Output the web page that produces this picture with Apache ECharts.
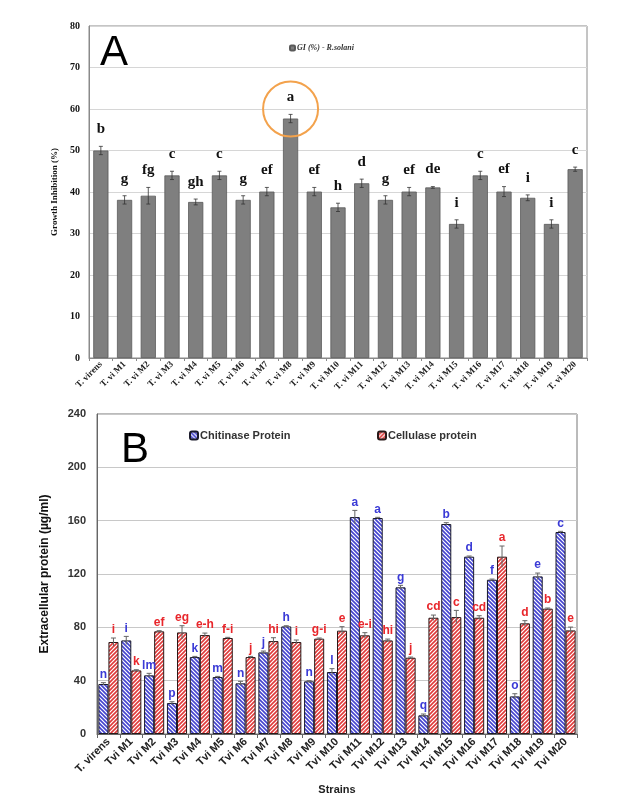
<!DOCTYPE html>
<html><head><meta charset="utf-8">
<script src="https://cdn.jsdelivr.net/npm/echarts@6/dist/echarts.min.js"></script>
<style>html,body{margin:0;padding:0;background:#fff}#c{width:634px;height:804px}</style>
</head><body><div id="c"></div>
<script>
// ---------- Panel A data ----------
const catsA = ['T. virens','T. vi M1','T. vi M2','T. vi M3','T. vi M4','T. vi M5','T. vi M6','T. vi M7','T. vi M8','T. vi M9','T. vi M10','T. vi M11','T. vi M12','T. vi M13','T. vi M14','T. vi M15','T. vi M16','T. vi M17','T. vi M18','T. vi M19','T. vi M20'];
const giValues = [50.0, 38.1, 39.1, 44.0, 37.6, 44.0, 38.1, 40.1, 57.7, 40.1, 36.3, 42.1, 38.1, 40.1, 41.1, 32.3, 44.0, 40.1, 38.6, 32.3, 45.5];
const giErrors = [1.0, 1.0, 2.0, 1.0, 0.7, 1.0, 1.0, 1.0, 1.0, 1.0, 1.0, 1.0, 1.0, 1.0, 0.2, 1.0, 1.0, 1.2, 0.7, 1.0, 0.5];
const giLetters = ['b','g','fg','c','gh','c','g','ef','a','ef','h','d','g','ef','de','i','c','ef','i','i','c'];
const highlightA = {cat: 'T. vi M8', value: 60};

// ---------- Panel B data ----------
const catsB = ['T. virens','Tvi M1','Tvi M2','Tvi M3','Tvi M4','Tvi M5','Tvi M6','Tvi M7','Tvi M8','Tvi M9','Tvi M10','Tvi M11','Tvi M12','Tvi M13','Tvi M14','Tvi M15','Tvi M16','Tvi M17','Tvi M18','Tvi M19','Tvi M20'];
const chitinase = [37.5, 70.2, 44.0, 23.2, 57.7, 42.7, 38.0, 61.2, 80.7, 39.5, 46.5, 162.7, 162.0, 110.0, 14.0, 157.5, 133.0, 115.7, 28.2, 118.2, 151.5];
const chitErr   = [1.0, 3.0, 1.5, 1.0, 0.5, 0.5, 1.5, 1.0, 0.5, 0.5, 2.5, 5.0, 0.5, 1.5, 1.0, 1.0, 0.5, 0.5, 2.0, 2.5, 0.5];
const chitLetters = ['n','i','lm','p','k','m','n','j','h','n','l','a','a','g','q','b','d','f','o','e','c'];
const cellulase = [69.0, 47.7, 77.0, 76.2, 74.2, 72.0, 57.7, 69.7, 69.0, 71.5, 77.5, 74.0, 70.2, 57.2, 87.2, 87.7, 87.2, 133.0, 83.0, 94.0, 77.7];
const cellErr   = [3.0, 0.5, 0.5, 5.0, 1.5, 0.5, 0.5, 2.5, 1.5, 0.5, 3.0, 2.0, 1.0, 0.5, 2.0, 5.0, 1.5, 8.0, 2.0, 0.5, 2.5];
const cellLetters = ['i','k','ef','eg','e-h','f-i','j','hi','i','g-i','e','e-i','hi','j','cd','c','cd','a','d','b','e'];

function hatch(color, dir) {
  const s = 4;
  const c = document.createElement('canvas');
  c.width = s; c.height = s;
  const g = c.getContext('2d');
  g.fillStyle = '#ffffff'; g.fillRect(0, 0, s, s);
  g.strokeStyle = color; g.lineWidth = 1.6;
  g.beginPath();
  for (let k = -1; k <= 1; k++) {
    if (dir > 0) { g.moveTo(k*s - 2, -2); g.lineTo(k*s + s + 2, s + 2); }
    else { g.moveTo(k*s - 2, s + 2); g.lineTo(k*s + s + 2, -2); }
  }
  g.stroke();
  return {image: c, repeat: 'repeat'};
}

const serifFont = 'Liberation Serif';
const sansFont = 'Liberation Sans';
const blueTxt = '#3a3ad6';
const redTxt = '#e8262b';

const chart = echarts.init(document.getElementById('c'), null, {renderer: 'canvas'});

function errRenderA(params, api) {
  const i = api.value(0), v = api.value(1), e = api.value(2);
  const top = api.coord([i, v + e]);
  const bot = api.coord([i, v - e]);
  const x = top[0];
  const st = {stroke: '#333', lineWidth: 0.8};
  return {type: 'group', children: [
    {type: 'line', shape: {x1: x, y1: top[1], x2: x, y2: bot[1]}, style: st},
    {type: 'line', shape: {x1: x - 2, y1: top[1], x2: x + 2, y2: top[1]}, style: st},
    {type: 'line', shape: {x1: x - 2, y1: bot[1], x2: x + 2, y2: bot[1]}, style: st},
    {type: 'text', style: {text: giLetters[params.dataIndex], x: x, y: top[1] - 17, align: 'center', verticalAlign: 'middle',
      font: 'bold 15px "' + serifFont + '"', fill: '#111'}}
  ]};
}

function makeErrRenderB(letters, sign, color) {
  return function (params, api) {
    const i = api.value(0), v = api.value(1), e = api.value(2);
    const band = api.size([1, 0])[0];
    const off = sign * band * 0.22;
    const top = api.coord([i, v + e]);
    const bot = api.coord([i, v - e]);
    const x = top[0] + off;
    const st = {stroke: '#666', lineWidth: 1};
    return {type: 'group', children: [
      {type: 'line', shape: {x1: x, y1: top[1], x2: x, y2: bot[1]}, style: st},
      {type: 'line', shape: {x1: x - 2.5, y1: top[1], x2: x + 2.5, y2: top[1]}, style: st},
      {type: 'text', style: {text: letters[params.dataIndex], x: x, y: top[1] - 8, align: 'center', verticalAlign: 'middle',
        font: 'bold 12px "' + sansFont + '"', fill: color}}
    ]};
  };
}

const option = {
  backgroundColor: '#ffffff',
  animation: false,
  title: [
    {text: 'A', left: 100, top: 32, padding: 0, textStyle: {fontSize: 42, fontWeight: 'normal', fontFamily: sansFont, color: '#000'}},
    {text: 'B', left: 121, top: 429, padding: 0, textStyle: {fontSize: 42, fontWeight: 'normal', fontFamily: sansFont, color: '#000'}}
  ],
  legend: [
    {data: ['GI (%) - R.solani'], left: 289, top: 44, padding: 0, itemWidth: 5, itemHeight: 5, itemGap: 2,
      textStyle: {fontFamily: serifFont, fontStyle: 'italic', fontWeight: 'bold', fontSize: 8, color: '#333', padding: [0,0,0,-3]}},
    {data: ['Chitinase Protein'], left: 189, top: 430, padding: 0, itemWidth: 8, itemHeight: 8,
      textStyle: {fontFamily: sansFont, fontSize: 11, fontWeight: 'bold', color: '#333', padding: [0,0,0,-3]}},
    {data: ['Cellulase protein'], left: 377, top: 430, padding: 0, itemWidth: 8, itemHeight: 8,
      textStyle: {fontFamily: sansFont, fontSize: 11, fontWeight: 'bold', color: '#333', padding: [0,0,0,-3]}}
  ],
  grid: [
    {left: 89, top: 26, right: 47, height: 332, show: true, borderColor: '#8a8a8a', borderWidth: 1},
    {left: 97, top: 414, right: 57, height: 320, show: true, borderColor: '#777', borderWidth: 1}
  ],
  xAxis: [
    {gridIndex: 0, type: 'category', data: catsA,
      axisLine: {lineStyle: {color: '#8a8a8a'}}, axisTick: {show: true, length: 3, lineStyle: {color: '#8a8a8a'}},
      axisLabel: {rotate: 45, interval: 0, margin: 5, fontFamily: serifFont, fontWeight: 'bold', fontSize: 9, color: '#222'}},
    {gridIndex: 1, type: 'category', data: catsB, name: 'Strains', nameLocation: 'middle', nameGap: 50,
      nameTextStyle: {fontFamily: sansFont, fontWeight: 'bold', fontSize: 11, color: '#222'},
      axisLine: {lineStyle: {color: '#666'}}, axisTick: {show: true, length: 4, lineStyle: {color: '#666'}},
      axisLabel: {rotate: 45, interval: 0, margin: 6, fontFamily: sansFont, fontWeight: 'bold', fontSize: 11, color: '#222'}}
  ],
  yAxis: [
    {gridIndex: 0, type: 'value', min: 0, max: 80, interval: 10,
      name: 'Growth Inhibition (%)', nameLocation: 'middle', nameGap: 27,
      nameTextStyle: {fontFamily: serifFont, fontWeight: 'bold', fontSize: 9, color: '#111'},
      axisLine: {show: true, lineStyle: {color: '#8a8a8a'}}, axisTick: {show: false},
      splitLine: {lineStyle: {color: '#d6d6d6'}},
      axisLabel: {margin: 9, fontFamily: serifFont, fontWeight: 'bold', fontSize: 10, color: '#111'}},
    {gridIndex: 1, type: 'value', min: 0, max: 240, interval: 40,
      name: 'Extracellular protein (µg/ml)', nameLocation: 'middle', nameGap: 46,
      nameTextStyle: {fontFamily: sansFont, fontWeight: 'bold', fontSize: 12, color: '#111'},
      axisLine: {show: true, lineStyle: {color: '#666'}}, axisTick: {show: false},
      splitLine: {lineStyle: {color: '#c8c8c8'}},
      axisLabel: {margin: 11, fontFamily: sansFont, fontSize: 11, fontWeight: 'bold', color: '#333'}}
  ],
  series: [
    {name: 'GI (%) - R.solani', type: 'bar', xAxisIndex: 0, yAxisIndex: 0, data: giValues,
      barCategoryGap: '36%',
      itemStyle: {color: '#7f7f7f', borderColor: '#5a5a5a', borderWidth: 0.8},
      markPoint: {symbol: 'circle', symbolSize: 55, silent: true, label: {show: false},
        itemStyle: {color: 'rgba(0,0,0,0)', borderColor: '#F3A24C', borderWidth: 2},
        data: [{coord: [highlightA.cat, highlightA.value]}]}},
    {type: 'custom', xAxisIndex: 0, yAxisIndex: 0, renderItem: errRenderA, z: 5, clip: false,
      data: giValues.map((v, i) => [i, v, giErrors[i]])},
    {name: 'Chitinase Protein', type: 'bar', xAxisIndex: 1, yAxisIndex: 1, data: chitinase,
      barCategoryGap: '12%', barGap: '0%',
      itemStyle: {color: hatch('#4343cf', 1), borderColor: '#1a1a2a', borderWidth: 1}},
    {name: 'Cellulase protein', type: 'bar', xAxisIndex: 1, yAxisIndex: 1, data: cellulase,
      barCategoryGap: '12%', barGap: '0%',
      itemStyle: {color: hatch('#e03a3a', -1), borderColor: '#2a1a1a', borderWidth: 1}},
    {type: 'custom', xAxisIndex: 1, yAxisIndex: 1, renderItem: makeErrRenderB(chitLetters, -1, blueTxt), z: 5, clip: false,
      data: chitinase.map((v, i) => [i, v, chitErr[i]])},
    {type: 'custom', xAxisIndex: 1, yAxisIndex: 1, renderItem: makeErrRenderB(cellLetters, 1, redTxt), z: 5, clip: false,
      data: cellulase.map((v, i) => [i, v, cellErr[i]])}
  ]
};
chart.setOption(option);
</script>
</body></html>
